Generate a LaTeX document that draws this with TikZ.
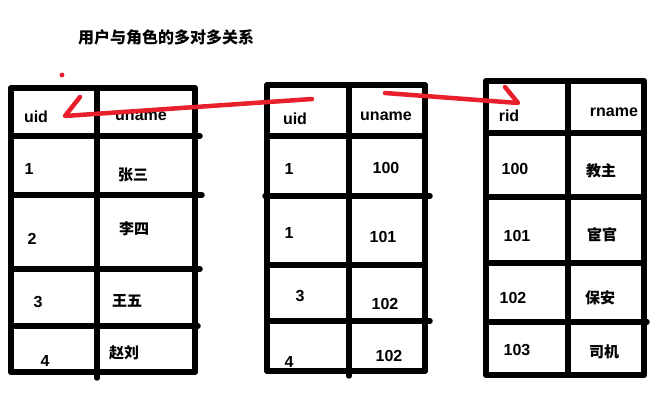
\documentclass[tikz,border=0pt]{standalone}
\usepackage{fontspec}
\setmainfont{Liberation Sans}
\newfontfamily\cjk{Noto Sans CJK SC}
\usepackage{xcolor}

\definecolor{penred}{RGB}{232,32,44}

\tikzset{
  rule/.style={line width=5.5pt,line cap=round},
  val/.style={inner sep=0pt,font=\fontsize{16}{19}\selectfont\bfseries},
  han/.style={inner sep=0pt,font=\fontsize{15}{18}\selectfont\cjk\bfseries},
  pen/.style={draw=penred,line width=4.5pt,line cap=round,line join=round},
}

\begin{document}
\begin{tikzpicture}[x=1pt,y=-1pt]
\fill[white] (0,0) rectangle (672,419);
\useasboundingbox (0,0) rectangle (672,419);

\draw (166,37) node[han,font=\fontsize{16}{19}\selectfont\cjk\bfseries](title) {用户与角色的多对多关系};

% user table
\draw[rule] (11,88) -- (11,372);
\draw[rule] (97,88) -- (97,378);
\draw[rule] (195,88) -- (195,372);
\draw[rule] (11,88) -- (195,88);
\draw[rule] (11,136) -- (200,136);
\draw[rule] (11,195) -- (202,195);
\draw[rule] (11,269) -- (200,269);
\draw[rule] (11,326) -- (198,326);
\draw[rule] (11,372) -- (195,372);

% link table
\draw[rule] (267,85) -- (267,371);
\draw[rule] (349,85) -- (349,376);
\draw[rule] (425,85) -- (425,371);
\draw[rule] (267,85) -- (425,85);
\draw[rule] (267,136) -- (425,136);
\draw[rule] (265,196) -- (430,196);
\draw[rule] (267,265) -- (425,265);
\draw[rule] (267,321) -- (430,321);
\draw[rule] (267,371) -- (425,371);

% role table
\draw[rule] (486,81) -- (486,375);
\draw[rule] (568,81) -- (568,375);
\draw[rule] (644,81) -- (644,375);
\draw[rule] (486,81) -- (644,81);
\draw[rule] (486,133) -- (644,133);
\draw[rule] (486,197) -- (644,197);
\draw[rule] (486,263) -- (644,263);
\draw[rule] (486,322) -- (647,322);
\draw[rule] (486,375) -- (644,375);

% user cells
\draw (36,117) node[val](uid) {uid};
\draw (141,116) node[val](uname) {uname};
\draw (29,169) node[val](uid1) {1};
\draw (133,175) node[han](uname1) {张三};
\draw (32,239) node[val](uid2) {2};
\draw (134,229) node[han](uname2) {李四};
\draw (38,302) node[val](uid3) {3};
\draw (127,301) node[han](uname3) {王五};
\draw (45,361) node[val](uid4) {4};
\draw (124,353) node[han](uname4) {赵刘};

% link cells
\draw (295,119) node[val](luid) {uid};
\draw (386,116) node[val](lrid) {uname};
\draw (289,169) node[val](luid1) {1};
\draw (386,168) node[val](lrid1) {100};
\draw (289,233) node[val](luid2) {1};
\draw (383,237) node[val](lrid2) {101};
\draw (300,296) node[val](luid3) {3};
\draw (385,304) node[val](lrid3) {102};
\draw (289,362) node[val](luid4) {4};
\draw (389,356) node[val](lrid4) {102};

% role cells
\draw (509,116) node[val](rid) {rid};
\draw (614,112) node[val](rname) {rname};
\draw (515,169) node[val](rid1) {100};
\draw (601,171) node[han](rname1) {教主};
\draw (517,236) node[val](rid2) {101};
\draw (602,235) node[han](rname2) {宦官};
\draw (513,298) node[val](rid3) {102};
\draw (600,298) node[han](rname3) {保安};
\draw (517,350) node[val](rid4) {103};
\draw (604,352) node[han](rname4) {司机};

% red pen marks
\fill[penred] (62,75) circle (2.4pt);
\coordinate (backfrom) at (312,99);
\coordinate (backto) at (65,116);
\coordinate (backhook) at (80,97);
\draw[pen] (backfrom) -- (backto) -- (backhook);
\coordinate (fwdfrom) at (385,93);
\coordinate (fwdto) at (518,103);
\coordinate (fwdhook) at (505,87);
\draw[pen] (fwdfrom) -- (fwdto) -- (fwdhook);
\end{tikzpicture}
\end{document}
